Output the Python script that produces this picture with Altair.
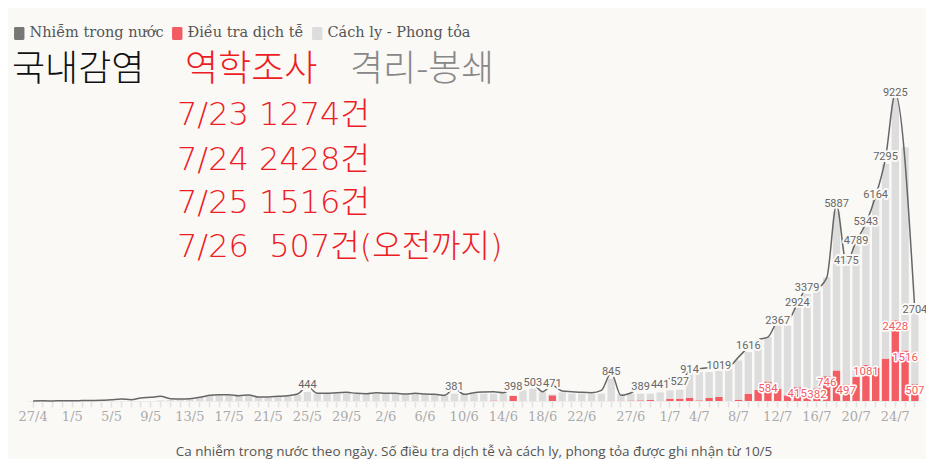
import altair as alt
import pandas as pd
from datetime import date, timedelta

# ---------------- data ----------------
start = date(2021, 4, 27)
days = [f"{(start + timedelta(k)).day}/{(start + timedelta(k)).month}" for k in range(91)]

tick_labels = ["27/4", "1/5", "5/5", "9/5", "13/5", "17/5", "21/5", "25/5", "29/5",
               "2/6", "6/6", "10/6", "14/6", "18/6", "22/6", "27/6", "1/7", "4/7",
               "8/7", "12/7", "16/7", "20/7", "24/7"]

# Nhiễm trong nước (line), 27/4 .. 26/7 (25/7 not on the line)
nhiem = [2, 5, 3, 10, 8, 12, 15, 20,
         40, 60, 40, 90, 110,
         140, 70, 60, 70, 110, 170, 190, 190, 160, 180, 120, 120, 140, 160, 210,
         444,
         230, 230, 250, 260, 230, 220, 250, 230, 230, 210, 230, 210, 200, 170,
         381,
         200, 250, 270, 280, 250,
         398, 450, 503, 280, 471,
         300, 280, 260, 250, 320,
         845, 170, 240, 389, 410, 441, 680, 527, 914, 970, 1000, 1019, 1040, 1320,
         1616, 1840, 1920, 2367, 2400, 2924, 3379, 3400, 3700, 5887, 4175, 4789,
         5343, 6164, 7295, 9225, None, 2704]

# Điều tra dịch tễ (red bars), recorded from 10/5
dieutra = [None] * 13 + [0] * 34 + [
    15, 10, 150, 0, 0, 0, 170, 0, 0, 0, 0, 0,
    10, 10, 15, 20, 30, 10, 70, 70, 100, 20, 90, 120, 5, 40,
    220, 330, 584, 370, 170, 415, 300, 382, 746, 920, 497, 720,
    1081, 1000, 1274, 2428, 1516, 507]

# Cách ly - Phong tỏa (grey bars, stacked on the red ones), recorded from 10/5
cachly = [None] * 13 + [
    20, 30, 40, 50, 110, 160, 170, 170, 150, 160, 100, 100, 120, 140, 180,
    270, 210, 210, 220, 230, 210, 200, 220, 210, 210, 200, 210, 200, 190, 160,
    220, 180, 230, 220, 205, 210, 20, 320, 370, 260, 30,
    260, 220, 220, 220, 220, 660, 210, 205, 200, 190, 250, 250, 270,
    720, 850, 780, 780, 965, 1180, 1250, 1490, 1340, 1900, 2100, 2405, 2920,
    2940, 2970, 4780, 3600, 4010, 4150, 5130, 5860, 6670, 6110, 2240]

line_labels = ["25/5", "9/6", "15/6", "17/6", "19/6", "25/6", "28/6", "30/6", "2/7",
               "3/7", "6/7", "9/7", "12/7", "14/7", "15/7", "18/7", "19/7", "20/7",
               "21/7", "22/7", "23/7", "24/7", "26/7"]
red_labels = ["11/7", "14/7", "16/7", "17/7", "19/7", "21/7", "24/7", "25/7", "26/7"]

series = ["Nhiễm trong nước", "Điều tra dịch tễ", "Cách ly - Phong tỏa"]
colors = ["#777777", "#f25c62", "#dddddd"]

# ---------------- tables ----------------
line_df = pd.DataFrame({"d": days, "v": nhiem}).dropna()
bar_df = pd.concat([
    pd.DataFrame({"d": days, "v": dieutra, "s": series[1], "o": 0}),
    pd.DataFrame({"d": days, "v": cachly, "s": series[2], "o": 1}),
]).dropna()
bar_df = bar_df[bar_df["v"] > 0]
red_df = pd.DataFrame({"d": days, "v": dieutra}).dropna()
red_df = red_df[red_df["d"].isin(red_labels)]
lab_df = line_df[line_df["d"].isin(line_labels)]

BG = "#faf9f6"
W, H = 894, 316

label_expr = "indexof([" + ",".join(f"'{t}'" for t in tick_labels) + "], datum.value) >= 0 ? datum.value : ''"

xenc = alt.X("d:O", sort=days,
             scale=alt.Scale(type="band", paddingInner=0.25, paddingOuter=0.25),
             axis=alt.Axis(title=None, labelExpr=label_expr, labelAngle=0, labelOverlap=False,
                           labelFont="DejaVu Serif", labelFontSize=13, labelColor="#aaaaaa",
                           labelPadding=3, tickColor="#e2e2e2", tickSize=6, tickWidth=1.5,
                           domainColor="#ececec", domainWidth=1, grid=False))
yscale = alt.Scale(domain=[0, 9500], nice=False, zero=True)

bars = alt.Chart(bar_df).mark_bar().encode(
    x=xenc,
    y=alt.Y("v:Q", stack="zero", scale=yscale, axis=None),
    color=alt.Color("s:N", scale=alt.Scale(domain=series, range=colors),
                    legend=alt.Legend(title=None)),
    order=alt.Order("o:Q"),
)

line = alt.Chart(line_df).mark_line(interpolate="monotone", color="#666666", strokeWidth=1.5).encode(
    x=alt.X("d:O", sort=days), y=alt.Y("v:Q", scale=yscale))

halo = alt.Chart(lab_df).mark_text(font="Roboto", fontSize=11, baseline="middle", dy=-1,
                                   stroke=BG, strokeWidth=4, strokeJoin="round", color=BG).encode(
    x=alt.X("d:O", sort=days), y=alt.Y("v:Q", scale=yscale), text=alt.Text("v:Q", format="d"))
labs = alt.Chart(lab_df).mark_text(font="Roboto", fontSize=11, baseline="middle", dy=-1,
                                   color="#666666").encode(
    x=alt.X("d:O", sort=days), y=alt.Y("v:Q", scale=yscale), text=alt.Text("v:Q", format="d"))

rhalo = alt.Chart(red_df).mark_text(font="Roboto", fontSize=11.5, baseline="middle", dy=7,
                                    stroke="#ffffff", strokeWidth=3, strokeJoin="round", color="#ffffff").encode(
    x=alt.X("d:O", sort=days), y=alt.Y("v:Q", scale=yscale), text=alt.Text("v:Q", format="d"))
rlabs = alt.Chart(red_df).mark_text(font="Roboto", fontSize=11.5, baseline="middle", dy=7,
                                    color="#f25c62").encode(
    x=alt.X("d:O", sort=days), y=alt.Y("v:Q", scale=yscale), text=alt.Text("v:Q", format="d"))


def note(txt, x, y, color, size, align="left", font="Noto Sans CJK KR", weight="normal"):
    return alt.Chart(pd.DataFrame({"t": [txt]})).mark_text(
        font=font, fontSize=size, align=align, baseline="middle", color=color, fontWeight=weight
    ).encode(x=alt.value(x), y=alt.value(y), text="t:N")


RED_FONT = "DejaVu Sans, Noto Sans CJK KR"
notes = [
    note("국내감염", -15, -15, "#111111", 36, weight=300),
    note("역학조사", 158, -15, "#ee1c25", 36, weight=300),
    note("격리-봉쇄", 323, -15, "#888888", 36, weight=300),
    note("7/23 1274건", 150, 30, "#ee1c25", 32, font=RED_FONT, weight=300),
    note("7/24 2428건", 150, 75, "#ee1c25", 32, font=RED_FONT, weight=300),
    note("7/25 1516건", 150, 118, "#ee1c25", 32, font=RED_FONT, weight=300),
    note("7/26 \u00a0507건(오전까지)", 150, 162, "#ee1c25", 32, font=RED_FONT, weight=300),
    note("Ca nhiễm trong nước theo ngày. Số điều tra dịch tễ và cách ly, phong tỏa được ghi nhận từ 10/5",
         447, 367, "#555555", 13.5, align="center", font="Open Sans"),
]

sym = ("M-0.6,-1H0.6A0.2,0.2,0,0,1,0.8,-0.8V0.8A0.2,0.2,0,0,1,0.6,1H-0.6"
       "A0.2,0.2,0,0,1,-0.8,0.8V-0.8A0.2,0.2,0,0,1,-0.6,-1Z")

chart = alt.layer(bars, line, halo, labs, rhalo, rlabs, *notes).properties(
    width=W, height=H,
    padding={"left": 19, "top": 77, "right": 5, "bottom": 58},
    autosize=alt.AutoSizeParams(type="none"),
    background=BG,
).configure_view(stroke=None).configure_legend(
    orient="none", legendX=-15, legendY=-59, direction="horizontal",
    labelFont="DejaVu Serif", labelFontSize=14.5, labelColor="#555555",
    symbolType=sym, symbolSize=169, symbolStrokeWidth=0, columnPadding=6,
    labelOffset=3, padding=0,
)

chart.save("out.html", embed_options={"renderer": "svg", "actions": False})
